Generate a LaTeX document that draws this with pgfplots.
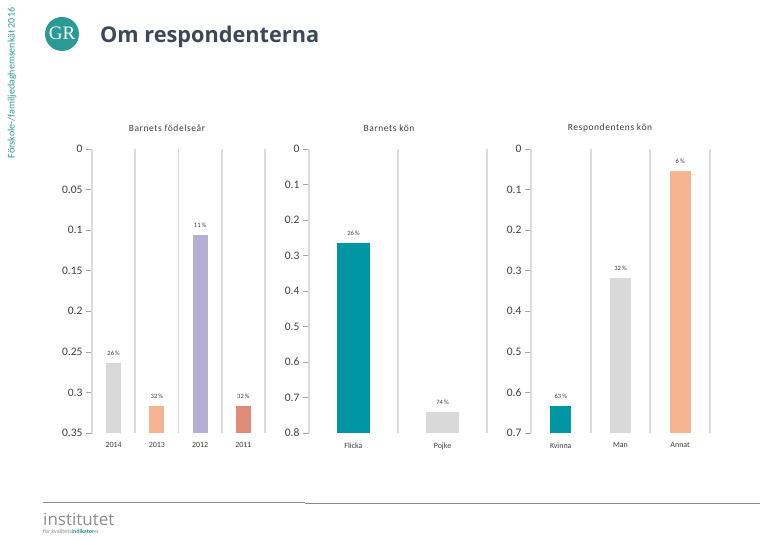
\documentclass[border=0pt]{standalone}
\usepackage{pgfplots}
\pgfplotsset{compat=1.18}
\usepackage{fontspec}
\setmainfont{Carlito}
\newfontfamily\opensans{Open Sans}
\newfontfamily\serifgr{Liberation Serif}
\definecolor{txt}{HTML}{404040}
\definecolor{sep}{HTML}{DADADA}
\definecolor{cgray}{HTML}{D9D9D9}
\definecolor{cpeach}{HTML}{F4B48F}
\definecolor{clav}{HTML}{B4AFD3}
\definecolor{csalmon}{HTML}{E08A7A}
\definecolor{cteal}{HTML}{0096A4}
\definecolor{logoteal}{HTML}{2A9A95}
\definecolor{vteal}{HTML}{2E9C9A}
\definecolor{titlecol}{HTML}{3C4757}
\pgfplotsset{
  panel/.style={
    scale only axis, anchor=center, y dir=reverse, ybar stacked,
    axis line style={draw=none},
    ytick pos=left, tick align=outside, major tick length=6pt,
    ytick style={draw=black!35, line width=0.6pt},
    xtick style={draw=none},
    scaled y ticks=false,
    yticklabel style={/pgf/number format/fixed, /pgf/number format/precision=2,
      /pgf/number format/assume math mode=true, font=\fontsize{11.5}{12}\selectfont, text=txt},
    xticklabel style={font=\fontsize{8}{9}\selectfont, text=txt},
    extra x tick style={grid=major, major grid style={draw=sep, line width=1.8pt}, major tick length=0pt},
    extra x tick labels={},
  },
  labaxis/.style={scale only axis, anchor=center, y dir=reverse, hide axis, clip=false},
  lab/.style={draw=none, mark=none, point meta=explicit symbolic,
    nodes near coords={\pgfplotspointmeta\,\%},
    every node near coord/.append style={font=\fontsize{6.5}{7}\selectfont, text=txt, inner sep=0pt, anchor=south, yshift=7pt}},
}
\begin{document}
\begin{tikzpicture}[x=1pt,y=1pt]
\fill[white] (0,0) rectangle (780,540);
\useasboundingbox (0,0) rectangle (780,540);
% side text, logo, title
\node[rotate=90, text=vteal, inner sep=0pt] at (12,457) {\fontsize{10}{11}\selectfont Förskole-/familjedaghemsenkät 2016};
\fill[logoteal] (62,506) circle (17);
\node[text=white, inner sep=0pt] at (62,507) {\serifgr\fontsize{19}{19}\selectfont GR};
\node[anchor=west, inner sep=0pt, text=titlecol] at (100,503) {\opensans\bfseries\fontsize{21.7}{24}\selectfont Om respondenterna};
% panel titles
\node[text=txt] at (167,412) {\fontsize{9.5}{10}\selectfont\addfontfeature{LetterSpace=6}Barnets födelseår};
\node[text=txt] at (389,412) {\fontsize{9.5}{10}\selectfont\addfontfeature{LetterSpace=6}Barnets kön};
\node[text=txt] at (610,412) {\fontsize{9.5}{10}\selectfont\addfontfeature{LetterSpace=6}Respondentens kön};

% Panel 1
\begin{axis}[panel, at={(178.5pt,249pt)}, width=173pt, height=284pt,
  xmin=0.5, xmax=4.5, ymin=0, ymax=0.35,
  ytick={0,0.05,0.1,0.15,0.2,0.25,0.3,0.35},
  xtick={1,2,3,4}, xticklabels={2014,2013,2012,2011},
  extra x ticks={0.5,1.5,2.5,3.5,4.5}, bar width=15pt]
\addplot[draw=none, fill=none] table {
x y
1 0.264
2 0.317
3 0.106
4 0.317
};
\addplot[fill=cgray, draw=none] coordinates {(1,0.086) (2,0) (3,0) (4,0)};
\addplot[fill=cpeach, draw=none] coordinates {(1,0) (2,0.033) (3,0) (4,0)};
\addplot[fill=clav, draw=none] coordinates {(1,0) (2,0) (3,0.244) (4,0)};
\addplot[fill=csalmon, draw=none] coordinates {(1,0) (2,0) (3,0) (4,0.033)};
\end{axis}
\begin{axis}[labaxis, at={(178.5pt,249pt)}, width=173pt, height=284pt,
  xmin=0.5, xmax=4.5, ymin=0, ymax=0.35]
\addplot[lab] table[meta=p] {
x y p
1 0.264 26
2 0.317 32
3 0.106 11
4 0.317 32
};
\end{axis}

% Panel 2
\begin{axis}[panel, at={(398pt,249pt)}, width=178pt, height=284pt,
  xmin=0.5, xmax=2.5, ymin=0, ymax=0.8,
  ytick={0,0.1,0.2,0.3,0.4,0.5,0.6,0.7,0.8},
  xtick={1,2}, xticklabels={Flicka,Pojke},
  extra x ticks={0.5,1.5,2.5}, bar width=33pt]
\addplot[draw=none, fill=none] table {
x y
1 0.265
2 0.741
};
\addplot[fill=cteal, draw=none] coordinates {(1,0.535) (2,0)};
\addplot[fill=cgray, draw=none] coordinates {(1,0) (2,0.059)};
\end{axis}
\begin{axis}[labaxis, at={(398pt,249pt)}, width=178pt, height=284pt,
  xmin=0.5, xmax=2.5, ymin=0, ymax=0.8]
\addplot[lab] table[meta=p] {
x y p
1 0.265 26
2 0.741 74
};
\end{axis}

% Panel 3
\begin{axis}[panel, at={(620.5pt,249pt)}, width=179pt, height=284pt,
  xmin=0.5, xmax=3.5, ymin=0, ymax=0.7,
  ytick={0,0.1,0.2,0.3,0.4,0.5,0.6,0.7},
  xtick={1,2,3}, xticklabels={Kvinna,Man,Annat},
  extra x ticks={0.5,1.5,2.5,3.5}, bar width=21pt]
\addplot[draw=none, fill=none] table {
x y
1 0.633
2 0.318
3 0.054
};
\addplot[fill=cteal, draw=none] coordinates {(1,0.067) (2,0) (3,0)};
\addplot[fill=cgray, draw=none] coordinates {(1,0) (2,0.382) (3,0)};
\addplot[fill=cpeach, draw=none] coordinates {(1,0) (2,0) (3,0.646)};
\end{axis}
\begin{axis}[labaxis, at={(620.5pt,249pt)}, width=179pt, height=284pt,
  xmin=0.5, xmax=3.5, ymin=0, ymax=0.7]
\addplot[lab] table[meta=p] {
x y p
1 0.633 63
2 0.318 32
3 0.054 6
};
\end{axis}

% footer
\draw[black!45, line width=0.8pt] (43,38) -- (305,38);
\draw[black!45, line width=0.8pt] (305,37) -- (760,37);
\node[anchor=west, inner sep=0pt, text=black!45] at (43,21) {\opensans\fontsize{17}{17}\selectfont institutet};
\node[anchor=west, inner sep=0pt, text=black!45] at (43,9) {\fontsize{6}{6}\selectfont för kvalitets\textcolor{vteal}{\bfseries indikator}er};
\end{tikzpicture}
\end{document}
